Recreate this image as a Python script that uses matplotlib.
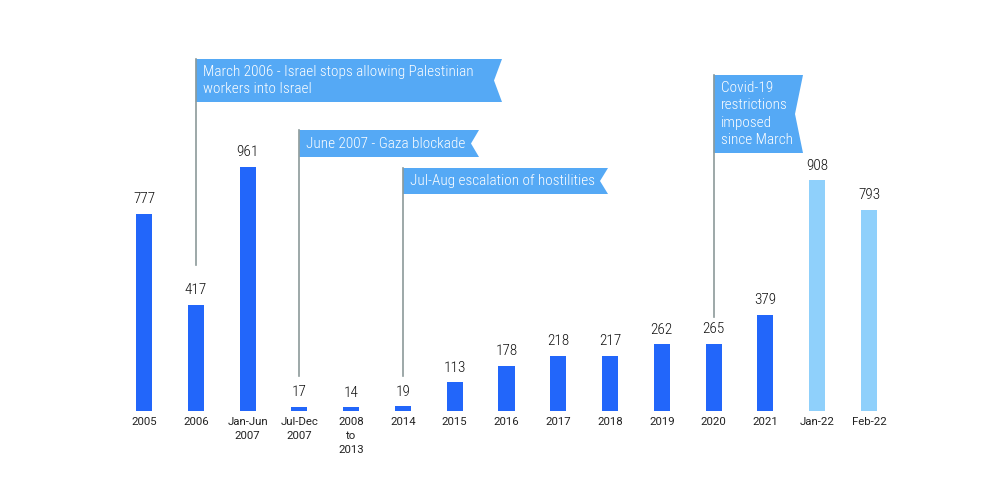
import matplotlib
matplotlib.use("Agg")
import matplotlib.pyplot as plt
from matplotlib.patches import Polygon
from matplotlib import font_manager

categories = ["2005", "2006", "Jan-Jun\n2007", "Jul-Dec\n2007", "2008\nto\n2013", "2014",
              "2015", "2016", "2017", "2018", "2019", "2020", "2021", "Jan-22", "Feb-22"]
values = [777, 417, 961, 17, 14, 19, 113, 178, 218, 217, 262, 265, 379, 908, 793]
highlight = [False] * 13 + [True, True]

annotations = [
    (1, "March 2006 - Israel stops allowing Palestinian\nworkers into Israel"),
    (3, "June 2007 - Gaza blockade"),
    (5, "Jul-Aug escalation of hostilities"),
    (11, "Covid-19\nrestrictions\nimposed\nsince March"),
]
# flag geometry in pixels: (top, bottom, right, pole_bottom)
flag_geom = [(59, 102, 502, 265), (130, 157, 479, 376), (168, 194, 608, 376), (75, 153, 803, 317)]

names = {f.name for f in font_manager.fontManager.ttflist}
fam = "Roboto Condensed" if "Roboto Condensed" in names else "Roboto"
plt.rcParams['font.family'] = [fam, 'DejaVu Sans']

DARK = "#2266fa"
LIGHT = "#8fd0fb"
FLAG = "#55a9f5"
POLE = "#8c9a9a"

fig = plt.figure(figsize=(10, 4.96), dpi=100)
ax = fig.add_axes([0, 0, 1, 1])
ax.axis("off")
ax.set_xlim(-2.78, 16.53)
ax.set_ylim(-334.8, 1618.7)

x = list(range(len(categories)))
colors = [LIGHT if h else DARK for h in highlight]
ax.bar(x, values, width=0.31, color=colors)
for xi, v in zip(x, values):
    ax.annotate(str(v), (xi, v), xytext=(0, 5.5), textcoords="offset points",
                ha="center", va="bottom", fontsize=11, color="#111111", fontweight="light")
for xi, c in zip(x, categories):
    ax.annotate(c, (xi, 0), xytext=(0, -4), textcoords="offset points",
                ha="center", va="top", fontsize=8.2, color="#222222", linespacing=1.5,
                family=["Roboto", "DejaVu Sans"])

ov = fig.add_axes([0, 0, 1, 1], facecolor="none")
ov.axis("off")
ov.set_xlim(0, 1000)
ov.set_ylim(496, 0)

for (idx, text), (top, bot, right, pole_bot) in zip(annotations, flag_geom):
    px = ax.transData.transform((idx, 0))[0]
    left = px
    notch = 8
    mid = (top + bot) / 2
    poly = Polygon([(left, top), (right, top), (right - notch, mid), (right, bot), (left, bot)],
                   closed=True, facecolor=FLAG, edgecolor="none", zorder=2)
    ov.add_patch(poly)
    ov.plot([left, left], [top, pole_bot], color=POLE, lw=1.2, zorder=3)
    ov.text(left + 7, mid, text, ha="left", va="center", color="white",
            fontsize=11, linespacing=1.32, fontweight="light", zorder=4)

fig.savefig("out.png", dpi=100)
